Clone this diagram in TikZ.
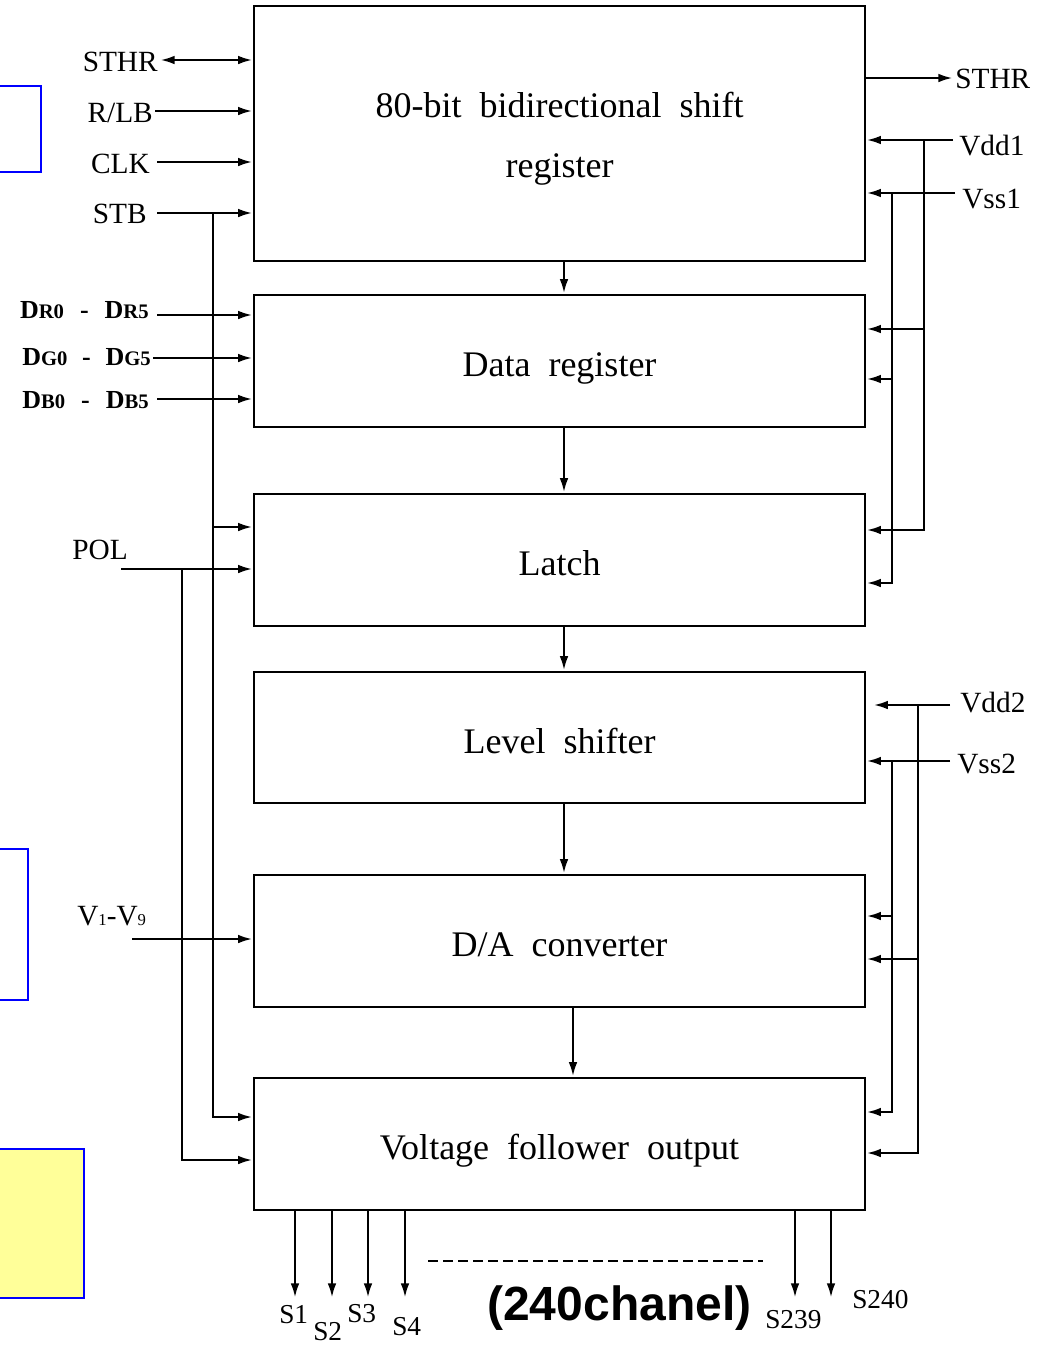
\documentclass[tikz,border=0pt]{standalone}
\usepackage{fontspec}
\setmainfont{Liberation Serif}
\newfontfamily\arialfont{Liberation Sans}
\usetikzlibrary{arrows.meta,calc}
\newcommand\mysm[1]{{\fontsize{15.5}{16}\selectfont #1}}
\newcommand\mysmv[1]{{\fontsize{12.5}{13}\selectfont #1}}
\begin{document}
\begin{tikzpicture}[x=0.75pt,y=-0.75pt,
  block/.style={draw,line width=1.9pt,inner sep=0pt,align=center,
    minimum width=458.25pt,minimum height=99pt,
    text height=23.8pt,text depth=0pt,
    font=\fontsize{27}{45}\selectfont},
  wire/.style={line width=2pt},
  arr/.style={line width=2pt,-{Latex[length=11pt,width=6.5pt]}},
  dblarr/.style={line width=2pt,{Latex[length=11pt,width=6.5pt]}-{Latex[length=11pt,width=6.5pt]}},
  lbl/.style={inner sep=0pt,font=\fontsize{22}{26}\selectfont},
  slbl/.style={inner sep=0pt,font=\fontsize{20.5}{24}\selectfont},
  dlbl/.style={inner sep=0pt,font=\bfseries\fontsize{19.5}{22}\selectfont},
  bluebox/.style={draw=blue,line width=1.1pt}
]
\useasboundingbox (0,0) rectangle (1045,1350);

% partially visible boxes at the left edge
\draw[bluebox] (-5,86) rectangle (41,172);
\draw[bluebox] (-5,849) rectangle (28,1000);
\draw[bluebox,fill={rgb,255:red,255;green,255;blue,153}] (-5,1149) rectangle (84,1298);

% main blocks
\node[block,minimum height=191.25pt,text height=65.25pt] (sr) at (559.5,133.5) {80-bit~~bidirectional~~shift\\register};
\node[block] (dr) at (559.5,361) {Data~~register};
\node[block] (la) at (559.5,560) {Latch};
\node[block,minimum height=98.25pt] (ls) at (559.5,737.5) {Level~~shifter};
\node[block] (da) at (559.5,941) {D/A~~converter};
\node[block] (vf) at (559.5,1144) {Voltage~~follower~~output};

% arrows between blocks
\draw[arr] ($(sr.south)+(4.5,0)$) -- ($(dr.north)+(4.5,0)$);
\draw[arr] ($(dr.south)+(4.5,0)$) -- ($(la.north)+(4.5,0)$);
\draw[arr] ($(la.south)+(4.5,0)$) -- ($(ls.north)+(4.5,0)$);
\draw[arr] ($(ls.south)+(4.5,0)$) -- ($(da.north)+(4.5,0)$);
\draw[arr] ($(da.south)+(13.5,0)$) -- ($(vf.north)+(13.5,0)$);

% left inputs
\node[lbl,anchor=base east] (tSTHR) at (158,71) {STHR};
\node[lbl,anchor=base east] (tRLB) at (153,122) {R/LB};
\node[lbl,anchor=base east] (tCLK) at (150,173) {CLK};
\node[lbl,anchor=base east] (tSTB) at (147,223) {STB};
\coordinate (pSTHR) at (160,60);
\coordinate (pRLB) at (155,111);
\coordinate (pCLK) at (157,162);
\coordinate (pSTB) at (157,213);
\draw[dblarr] (pSTHR) -- (pSTHR -| sr.west);
\draw[arr] (pRLB) -- (pRLB -| sr.west);
\draw[arr] (pCLK) -- (pCLK -| sr.west);
\draw[arr] (pSTB) -- (pSTB -| sr.west);

\node[dlbl,anchor=base east] (tDR) at (149,318) {D\mysm{R0}\hspace{12pt}-\hspace{12pt}D\mysm{R5}};
\node[dlbl,anchor=base east] (tDG) at (151,365) {D\mysm{G0}\hspace{11pt}-\hspace{11pt}D\mysm{G5}};
\node[dlbl,anchor=base east] (tDB) at (149,408) {D\mysm{B0}\hspace{12pt}-\hspace{12pt}D\mysm{B5}};
\coordinate (pDR) at (157,315);
\coordinate (pDG) at (153,358);
\coordinate (pDB) at (157,399);
\draw[arr] (pDR) -- (pDR -| dr.west);
\draw[arr] (pDG) -- (pDG -| dr.west);
\draw[arr] (pDB) -- (pDB -| dr.west);

% STB bus
\coordinate (bSTB) at (213,213);
\coordinate (bSTBl) at (213,527);
\coordinate (bSTBb) at (213,1117);
\draw[arr] (bSTB) |- (bSTBb -| vf.west);
\draw[arr] (bSTBl) -- (bSTBl -| la.west);

% POL
\node[lbl,anchor=base west] (tPOL) at (72,559) {POL};
\coordinate (pPOL) at (121,569);
\coordinate (bPOL) at (182,569);
\coordinate (bPOLb) at (182,1160);
\draw[arr] (pPOL) -- (pPOL -| la.west);
\draw[arr] (bPOL) |- (bPOLb -| vf.west);

% V1-V9
\node[lbl,anchor=base west] (tV) at (77,925) {V\mysmv{1}-V\mysmv{9}};
\coordinate (pV) at (132,939);
\draw[arr] (pV) -- (pV -| da.west);

% right side, upper supply
\node[lbl,anchor=base west] (uSTHR) at (955,88) {STHR};
\node[lbl,anchor=base west] (uVdd1) at (959,155) {Vdd1};
\node[lbl,anchor=base west] (uVss1) at (962,208) {Vss1};
\coordinate (qSTHR) at (953,78);
\coordinate (qVdd1) at (953,140);
\coordinate (qVss1) at (955,193);
\draw[arr] (qSTHR -| sr.east) -- (qSTHR);
\draw[arr] (qVdd1) -- (qVdd1 -| sr.east);
\draw[arr] (qVss1) -- (qVss1 -| sr.east);
\coordinate (v1a) at (924,140);
\coordinate (v1b) at (924,329);
\coordinate (v1c) at (924,530);
\draw[wire] (v1a) -- (v1b);
\draw[arr] (v1b) -- (v1b -| dr.east);
\draw[arr] (v1b) |- (v1c -| la.east);
\coordinate (w1a) at (892,193);
\coordinate (w1b) at (892,379);
\coordinate (w1c) at (892,583);
\draw[wire] (w1a) -- (w1b);
\draw[arr] (w1b) -- (w1b -| dr.east);
\draw[arr] (w1b) |- (w1c -| la.east);

% right side, lower supply
\node[lbl,anchor=base west] (uVdd2) at (960,712) {Vdd2};
\node[lbl,anchor=base west] (uVss2) at (957,773) {Vss2};
\coordinate (qVdd2) at (950,705);
\coordinate (qVss2) at (950,761);
\draw[arr] (qVdd2) -- ($(qVdd2 -| ls.east)+(7,0)$);
\draw[arr] (qVss2) -- (qVss2 -| ls.east);
\coordinate (v2a) at (918,705);
\coordinate (v2b) at (918,959);
\coordinate (v2c) at (918,1153);
\draw[wire] (v2a) -- (v2b);
\draw[arr] (v2b) -- (v2b -| da.east);
\draw[arr] (v2b) |- (v2c -| vf.east);
\coordinate (w2a) at (892,761);
\coordinate (w2b) at (892,916);
\coordinate (w2c) at (892,1112);
\draw[wire] (w2a) -- (w2b);
\draw[arr] (w2b) -- (w2b -| da.east);
\draw[arr] (w2b) |- (w2c -| vf.east);

% outputs
\coordinate (o1) at (295,1298);
\coordinate (o2) at (332,1298);
\coordinate (o3) at (368,1298);
\coordinate (o4) at (405,1298);
\coordinate (o239) at (795,1298);
\coordinate (o240) at (831,1298);
\foreach \o in {o1,o2,o3,o4,o239,o240}{\draw[arr] (\o |- vf.south) -- (\o);}
\node[slbl,anchor=base west] (tS1) at (279,1323) {S1};
\node[slbl,anchor=base west] (tS2) at (313,1340) {S2};
\node[slbl,anchor=base west] (tS3) at (347,1322) {S3};
\node[slbl,anchor=base west] (tS4) at (392,1335) {S4};
\node[slbl,anchor=base west] (tS239) at (765,1328) {S239};
\node[slbl,anchor=base west] (tS240) at (852,1308) {S240};

\coordinate (dashA) at (428,1261);
\coordinate (dashB) at (763,1261);
\draw[line width=1.5pt,dash pattern=on 7.5pt off 3.75pt] (dashA) -- (dashB);
\node[inner sep=0pt,anchor=base west,font=\arialfont\bfseries\fontsize{36}{40}\selectfont] (chan) at (487,1320) {(240chanel)};
\end{tikzpicture}
\end{document}
